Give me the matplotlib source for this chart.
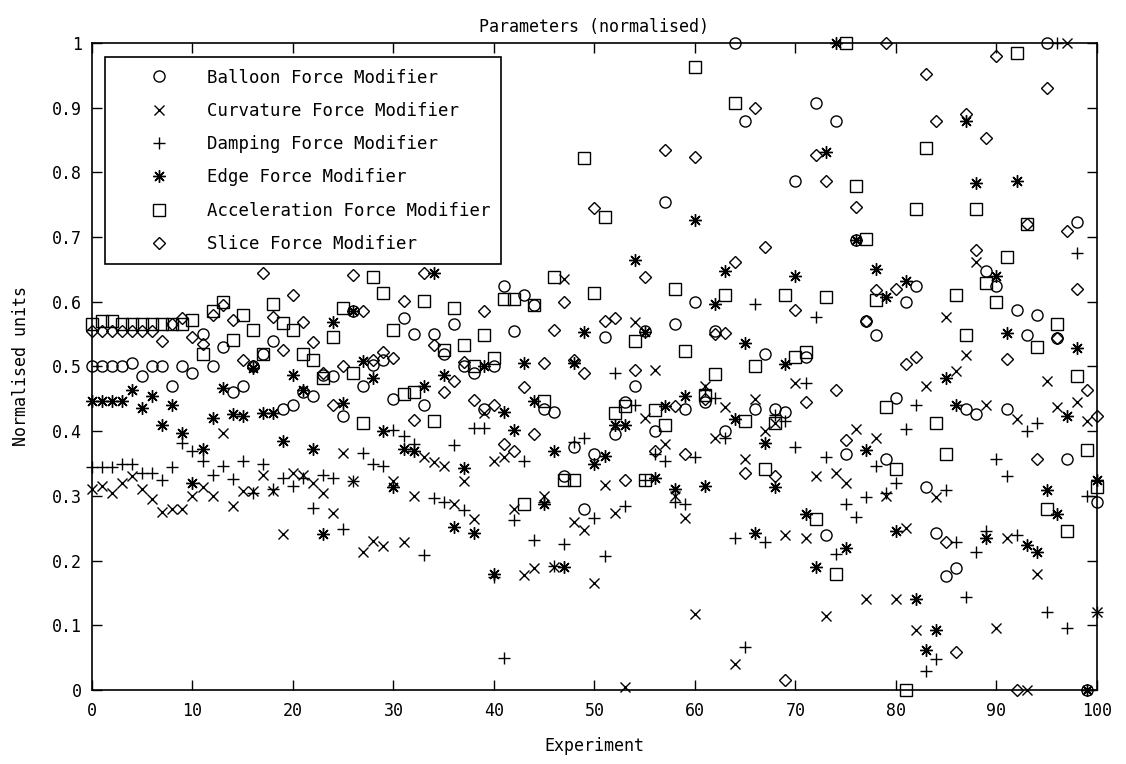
import numpy as np
import matplotlib
matplotlib.use("Agg")
import matplotlib.pyplot as plt
from matplotlib.ticker import FuncFormatter

plt.rcParams['font.family'] = ['DejaVu Sans Mono']

experiment = list(range(0, 101))

balloon = [
    0.50, 0.50, 0.50, 0.50, 0.505, 0.485, 0.50, 0.50, 0.47, 0.50,
    0.49, 0.55, 0.50, 0.53, 0.46, 0.47, 0.50, 0.52, 0.54, 0.435,
    0.44, 0.46, 0.455, 0.487, 0.485, 0.423, 0.585, 0.47, 0.503, 0.51,
    0.45, 0.575, 0.55, 0.44, 0.55, 0.52, 0.565, 0.50, 0.49, 0.435,
    0.50, 0.625, 0.555, 0.61, 0.595, 0.435, 0.43, 0.33, 0.375, 0.28,
    0.365, 0.545, 0.395, 0.445, 0.47, 0.555, 0.40, 0.755, 0.565, 0.435,
    0.60, 0.445, 0.555, 0.40, 1.0, 0.88, 0.435, 0.52, 0.435, 0.43,
    0.787, 0.515, 0.908, 0.239, 0.879, 0.364, 0.695, 0.57, 0.548, 0.357,
    0.452, 0.60, 0.625, 0.313, 0.243, 0.176, 0.188, 0.434, 0.426, 0.647,
    0.625, 0.434, 0.588, 0.548, 0.58, 1.0, 0.544, 0.357, 0.724, 0.0, 0.29]

curvature = [
    0.31, 0.315, 0.305, 0.32, 0.33, 0.31, 0.295, 0.275, 0.28, 0.28,
    0.30, 0.313, 0.30, 0.397, 0.285, 0.308, 0.308, 0.333, 0.308, 0.241,
    0.336, 0.333, 0.32, 0.305, 0.274, 0.367, 0.323, 0.213, 0.23, 0.223,
    0.323, 0.229, 0.30, 0.36, 0.353, 0.346, 0.288, 0.323, 0.265, 0.428,
    0.354, 0.36, 0.28, 0.177, 0.188, 0.30, 0.19, 0.635, 0.26, 0.247,
    0.166, 0.317, 0.273, 0.004, 0.568, 0.42, 0.494, 0.38, 0.30, 0.266,
    0.118, 0.47, 0.39, 0.437, 0.04, 0.357, 0.45, 0.40, 0.412, 0.239,
    0.474, 0.235, 0.331, 0.114, 0.335, 0.32, 0.404, 0.14, 0.39, 0.30,
    0.14, 0.25, 0.092, 0.47, 0.298, 0.577, 0.493, 0.518, 0.662, 0.441,
    0.096, 0.235, 0.419, 0.0, 0.18, 0.478, 0.438, 1.0, 0.445, 0.415, 0.12]

damping = [
    0.345, 0.345, 0.345, 0.35, 0.35, 0.335, 0.335, 0.325, 0.345, 0.382,
    0.37, 0.354, 0.333, 0.346, 0.326, 0.354, 0.305, 0.349, 0.31, 0.328,
    0.315, 0.328, 0.282, 0.333, 0.328, 0.249, 0.323, 0.367, 0.35, 0.346,
    0.402, 0.392, 0.38, 0.209, 0.297, 0.291, 0.379, 0.278, 0.405, 0.405,
    0.175, 0.05, 0.262, 0.354, 0.232, 0.29, 0.192, 0.225, 0.384, 0.39,
    0.266, 0.207, 0.49, 0.284, 0.44, 0.325, 0.365, 0.354, 0.29, 0.288,
    0.36, 0.463, 0.452, 0.39, 0.235, 0.066, 0.596, 0.228, 0.425, 0.415,
    0.375, 0.474, 0.577, 0.36, 0.21, 0.287, 0.268, 0.298, 0.346, 0.305,
    0.32, 0.404, 0.441, 0.03, 0.048, 0.309, 0.228, 0.143, 0.213, 0.246,
    0.357, 0.33, 0.239, 0.40, 0.412, 0.121, 1.0, 0.096, 0.676, 0.30, 0.12]

edge = [
    0.446, 0.446, 0.446, 0.446, 0.464, 0.436, 0.454, 0.41, 0.44, 0.397,
    0.32, 0.372, 0.42, 0.467, 0.426, 0.423, 0.497, 0.428, 0.428, 0.385,
    0.487, 0.464, 0.372, 0.241, 0.569, 0.444, 0.585, 0.508, 0.482, 0.40,
    0.314, 0.372, 0.37, 0.47, 0.645, 0.487, 0.252, 0.343, 0.242, 0.50,
    0.18, 0.43, 0.402, 0.505, 0.446, 0.288, 0.369, 0.19, 0.505, 0.553,
    0.35, 0.362, 0.41, 0.41, 0.664, 0.553, 0.328, 0.439, 0.31, 0.454,
    0.727, 0.316, 0.596, 0.647, 0.419, 0.537, 0.243, 0.382, 0.313, 0.504,
    0.64, 0.272, 0.19, 0.831, 1.0, 0.22, 0.695, 0.371, 0.65, 0.607,
    0.245, 0.632, 0.14, 0.062, 0.092, 0.482, 0.441, 0.879, 0.783, 0.235,
    0.64, 0.551, 0.787, 0.224, 0.213, 0.309, 0.272, 0.423, 0.529, 0.0, 0.324]

acceleration = [
    0.565, 0.57, 0.57, 0.565, 0.565, 0.565, 0.565, 0.565, 0.565, 0.565,
    0.572, 0.52, 0.585, 0.60, 0.541, 0.58, 0.556, 0.52, 0.597, 0.567,
    0.556, 0.52, 0.51, 0.482, 0.546, 0.59, 0.49, 0.413, 0.638, 0.613,
    0.556, 0.458, 0.461, 0.601, 0.415, 0.526, 0.591, 0.533, 0.50, 0.549,
    0.513, 0.605, 0.605, 0.288, 0.595, 0.446, 0.638, 0.325, 0.325, 0.823,
    0.613, 0.731, 0.428, 0.439, 0.539, 0.325, 0.432, 0.41, 0.62, 0.524,
    0.963, 0.456, 0.489, 0.61, 0.908, 0.415, 0.50, 0.342, 0.412, 0.61,
    0.515, 0.522, 0.265, 0.607, 0.18, 1.0, 0.779, 0.697, 0.603, 0.438,
    0.342, 0.0, 0.743, 0.838, 0.412, 0.364, 0.61, 0.548, 0.743, 0.629,
    0.60, 0.67, 0.985, 0.72, 0.53, 0.28, 0.566, 0.246, 0.485, 0.371, 0.313]

slice_force = [
    0.555, 0.555, 0.555, 0.555, 0.555, 0.555, 0.555, 0.54, 0.565, 0.575,
    0.545, 0.535, 0.58, 0.595, 0.572, 0.51, 0.50, 0.644, 0.577, 0.526,
    0.61, 0.569, 0.538, 0.49, 0.441, 0.50, 0.641, 0.585, 0.51, 0.523,
    0.513, 0.601, 0.418, 0.645, 0.533, 0.46, 0.477, 0.507, 0.448, 0.585,
    0.44, 0.38, 0.369, 0.469, 0.395, 0.505, 0.557, 0.60, 0.51, 0.49,
    0.745, 0.57, 0.575, 0.325, 0.494, 0.638, 0.37, 0.834, 0.439, 0.365,
    0.824, 0.45, 0.55, 0.551, 0.662, 0.335, 0.90, 0.684, 0.331, 0.015,
    0.588, 0.445, 0.827, 0.787, 0.463, 0.386, 0.746, 0.57, 0.618, 1.0,
    0.62, 0.504, 0.515, 0.952, 0.879, 0.228, 0.059, 0.89, 0.68, 0.853,
    0.98, 0.511, 0.0, 0.72, 0.357, 0.93, 0.544, 0.709, 0.62, 0.463, 0.423]

labels = ['Balloon Force Modifier', 'Curvature Force Modifier',
          'Damping Force Modifier', 'Edge Force Modifier',
          'Acceleration Force Modifier', 'Slice Force Modifier']

fig = plt.figure(figsize=(11.26, 7.64), dpi=100)
ax = fig.add_axes([0.0817, 0.0969, 0.8925, 0.8468])

style = dict(linestyle='none', color='black', markerfacecolor='none',
             markeredgecolor='black', markeredgewidth=1.0, clip_on=False)
ax.plot(experiment, balloon, marker='o', markersize=8, label=labels[0], **style)
ax.plot(experiment, curvature, marker='x', markersize=6.5, label=labels[1], **style)
ax.plot(experiment, damping, marker='+', markersize=9, label=labels[2], **style)
ax.plot(experiment, edge, marker=(8, 2, 0), markersize=9, label=labels[3], **style)
ax.plot(experiment, acceleration, marker='s', markersize=8.5, label=labels[4], **style)
ax.plot(experiment, slice_force, marker='D', markersize=6, label=labels[5], **style)

ax.set_xlim(0, 100)
ax.set_ylim(0, 1)
ax.set_xticks(np.arange(0, 101, 10))
ax.set_yticks(np.arange(0, 1.01, 0.1))
ax.yaxis.set_major_formatter(FuncFormatter(
    lambda v, p: '0' if abs(v) < 1e-9 else ('1' if abs(v - 1) < 1e-9 else f'{v:.1f}')))
ax.tick_params(direction='in', length=7, width=1, top=True, right=True,
               labelsize=12)
ax.tick_params(axis='x', pad=9)
ax.tick_params(axis='y', pad=7)
for s in ax.spines.values():
    s.set_linewidth(1.2)

ax.set_title('Parameters (normalised)', fontsize=12, pad=8)
ax.set_xlabel('Experiment', fontsize=12, labelpad=12)
ax.set_ylabel('Normalised units', fontsize=12, labelpad=16)

leg = ax.legend(loc='upper left', bbox_to_anchor=(0.013, 0.978),
                fontsize=12.5, frameon=True, fancybox=False, framealpha=1,
                edgecolor='black', handlelength=4.9, handletextpad=0.3,
                labelspacing=0.88, borderpad=0.65, borderaxespad=0)
leg.get_frame().set_linewidth(1.2)

fig.savefig('out.png', dpi=100)
